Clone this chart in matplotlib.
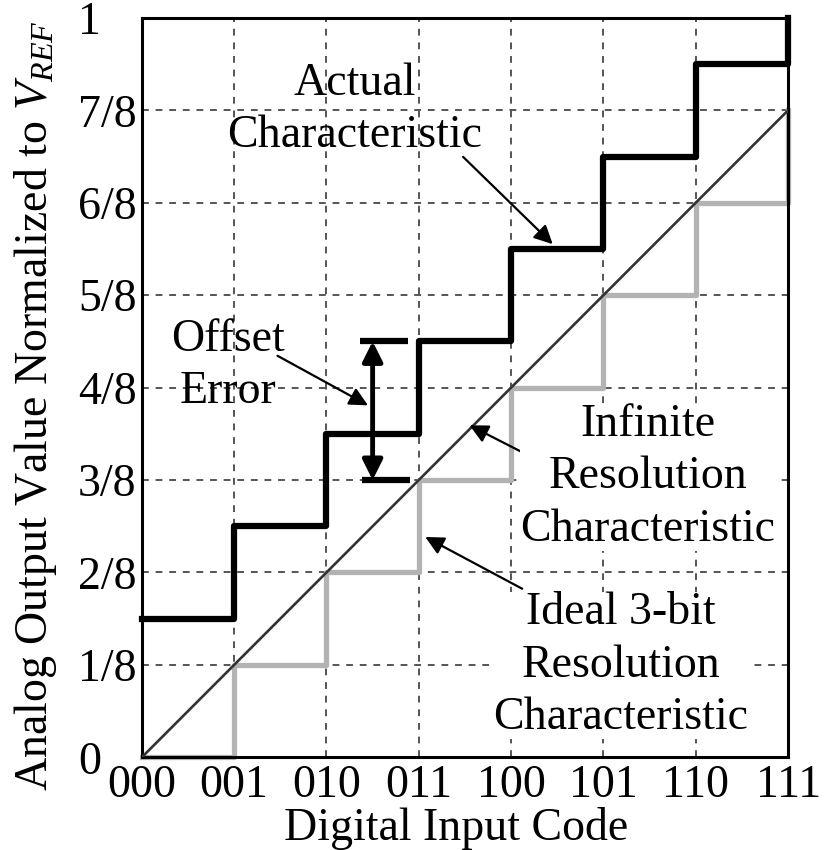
import numpy as np
import matplotlib
matplotlib.use("Agg")
import matplotlib.pyplot as plt

plt.rcParams['font.family'] = ['Liberation Serif', 'DejaVu Serif']
plt.rcParams['mathtext.fontset'] = 'custom'
plt.rcParams['mathtext.rm'] = 'Liberation Serif'
plt.rcParams['mathtext.it'] = 'Liberation Serif:italic'

# Données
codes = [0, 1, 2, 3, 4, 5, 6, 7]
code_labels = ['000', '001', '010', '011', '100', '101', '110', '111']
ideal_eighths = [0, 1, 2, 3, 4, 5, 6, 7]
actual_eighths = [1.5, 2.5, 3.5, 4.5, 5.5, 6.5, 7.5, 8]
y_labels = ['0', '1/8', '2/8', '3/8', '4/8', '5/8', '6/8', '7/8', '1']

ideal = np.array(ideal_eighths) / 8
actual = np.array(actual_eighths) / 8

fig = plt.figure(figsize=(8.34, 8.5), dpi=100)
ax = fig.add_axes([0.170, 0.109, 0.775, 0.870])

# Grille en pointillés
for x in codes[1:-1]:
    ax.plot([x, x], [0, 1], color='#555555', lw=1.4, ls=(0, (3.5, 3.5)), zorder=1)
for k in range(1, 8):
    ax.plot([0, 7], [k / 8, k / 8], color='#555555', lw=1.4, ls=(0, (3.5, 3.5)), zorder=1)

# Caractéristiques
ax.step(codes, ideal, where='post', color='#b3b3b3', lw=3.8, zorder=2, clip_on=False)
ax.plot([0, 7], [0, 7 / 8], color='#333333', lw=1.9, zorder=3)
ax.step(codes, actual, where='post', color='black', lw=4.5, zorder=4, clip_on=False)

# Erreur de décalage
ax.plot([2.36, 2.88], [4.5 / 8, 4.5 / 8], color='black', lw=4.5, solid_capstyle='butt')
ax.plot([2.38, 2.90], [3 / 8, 3 / 8], color='black', lw=4.5, solid_capstyle='butt')
ax.annotate('', xy=(2.5, 4.5 / 8), xytext=(2.5, 3 / 8),
            arrowprops=dict(arrowstyle='<|-|>', lw=3.5, color='black',
                            mutation_scale=30, shrinkA=0, shrinkB=0))

fs = 33
ls = 1.3
arrow = dict(arrowstyle='-|>', lw=1.6, color='black', mutation_scale=28,
             shrinkA=0, shrinkB=0)

ax.text(2.31, 0.876, 'Actual\nCharacteristic', fontsize=fs, ha='center', va='center',
        linespacing=ls)
ax.annotate('', xy=(4.45, 0.694), xytext=(3.48, 0.812), arrowprops=arrow)

ax.text(0.93, 0.530, 'Offset\nError', fontsize=fs, ha='center', va='center',
        linespacing=ls)
ax.annotate('', xy=(2.45, 0.476), xytext=(1.47, 0.543), arrowprops=arrow)

ax.text(5.48, 0.379, 'Infinite\nResolution\nCharacteristic', fontsize=fs,
        ha='center', va='center', linespacing=ls, zorder=5,
        bbox=dict(facecolor='white', edgecolor='none', pad=0))
ax.annotate('', xy=(3.55, 0.449), xytext=(4.38, 0.396), arrowprops=arrow)

ax.text(5.19, 0.1245, 'Ideal 3-bit\nResolution\nCharacteristic', fontsize=fs,
        ha='center', va='center', linespacing=ls, zorder=5,
        bbox=dict(facecolor='white', edgecolor='none', pad=0))
ax.annotate('', xy=(3.07, 0.298), xytext=(4.12, 0.228), arrowprops=arrow)

# Axes
ax.set_xlim(0, 7)
ax.set_ylim(0, 1)
ax.set_xticks(codes)
ax.set_xticklabels(code_labels, fontsize=fs)
ax.set_yticks(np.arange(9) / 8)
ax.set_yticklabels(y_labels, fontsize=fs, ha='left')
ax.tick_params(axis='x', length=0, pad=5)
ax.tick_params(axis='y', length=0, pad=46)
for s in ax.spines.values():
    s.set_linewidth(2.2)
    s.set_color('black')
ax.set_xlabel('Digital Input Code', fontsize=fs, va='center')
ax.xaxis.set_label_coords(0.486, -0.096)
ax.set_ylabel(r'Analog Output Value Normalized to $\mathit{V}_{\mathit{REF}}$',
              fontsize=fs, va='center')
ax.yaxis.set_label_coords(-0.164, 0.476)

fig.savefig('out.png', dpi=100, facecolor='white')
